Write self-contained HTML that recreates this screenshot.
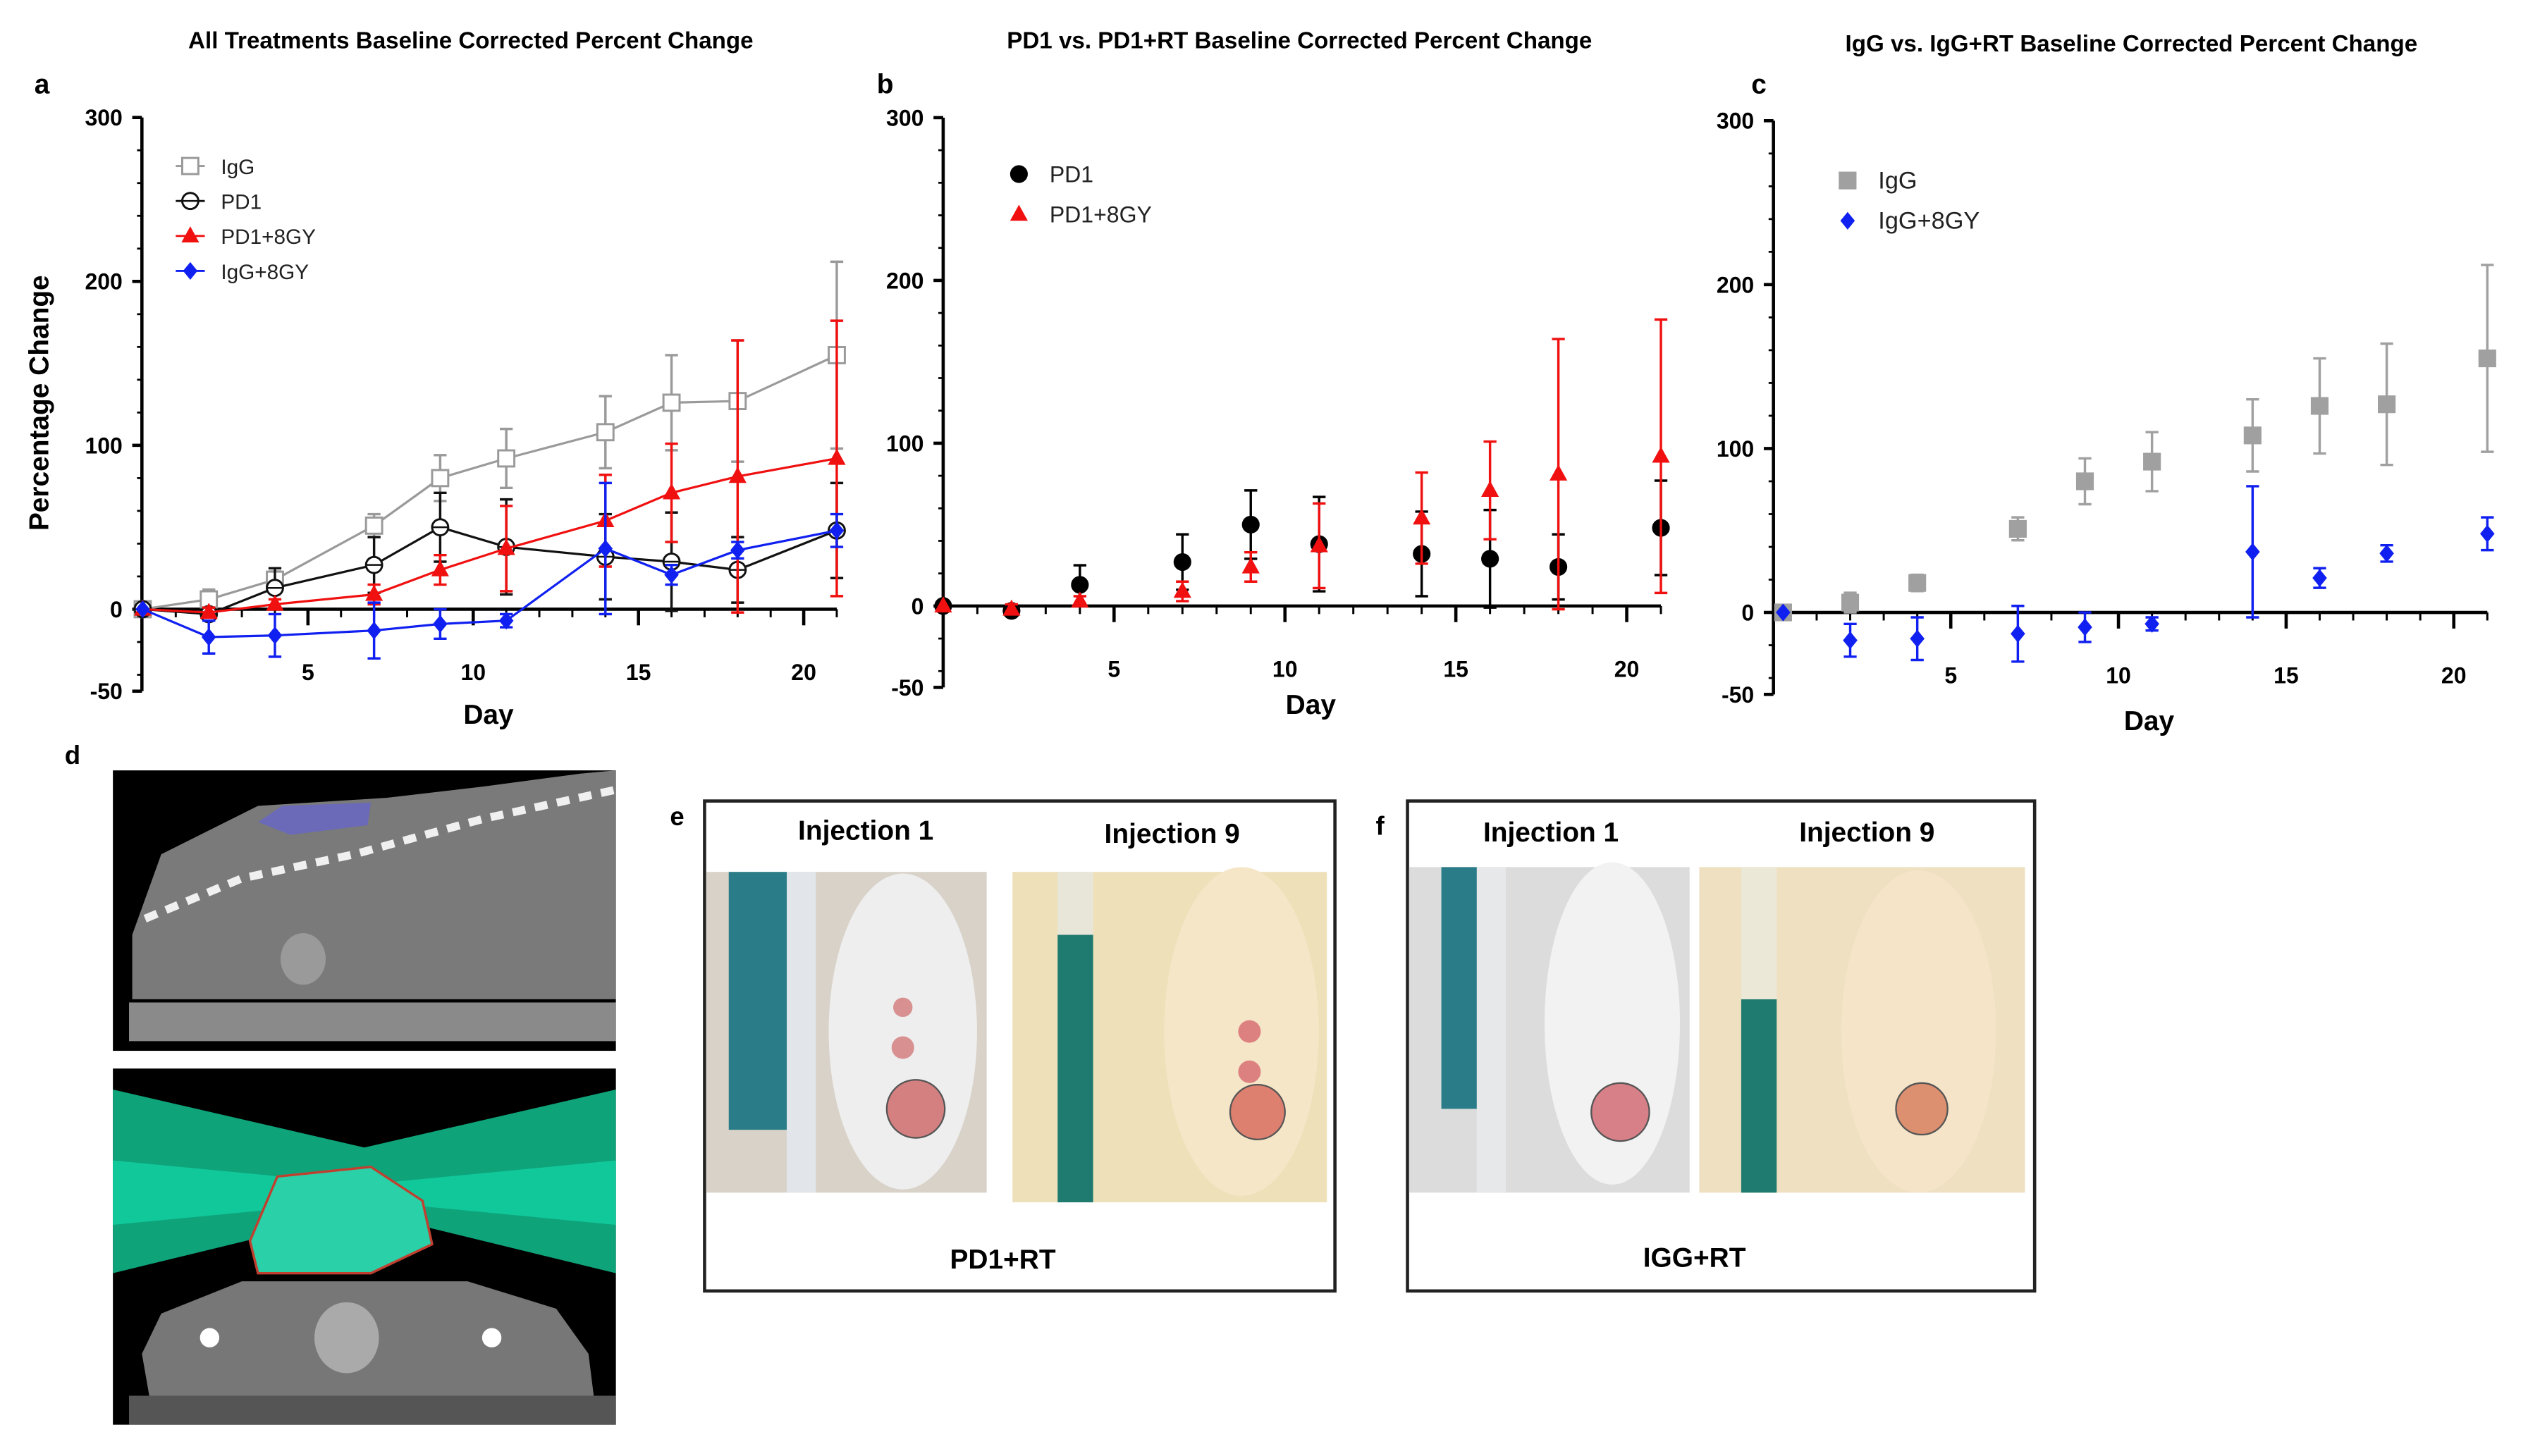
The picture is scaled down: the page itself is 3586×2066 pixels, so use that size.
<!DOCTYPE html>
<html><head><meta charset="utf-8"><style>
html,body{margin:0;padding:0;background:#fff}
svg{display:block}
text{font-family:"Liberation Sans",Arial,sans-serif}
</style></head><body>
<svg id="fig" width="3586" height="2066" viewBox="0 0 1568 903.4" xmlns="http://www.w3.org/2000/svg">
<rect width="1568" height="903.4" fill="#fff"/>
<g id="charts"></g>

<!-- panel d: CT images -->
<g>
<rect x="70" y="478" width="312" height="174" fill="#000"/>
<path d="M82,580 L100,530 L160,500 L240,495 L300,488 L360,480 L382,478 L382,620 L82,620 Z" fill="#7a7a7a"/>
<path d="M160,510 L175,500 L230,498 L228,512 L180,518 Z" fill="#6a6ab8"/>
<path d="M90,570 L150,545 L220,530 L300,508 L382,490" stroke="#f0f0f0" stroke-width="5" stroke-dasharray="8,6" fill="none"/>
<ellipse cx="188" cy="595" rx="14" ry="16" fill="#9a9a9a"/>
<rect x="80" y="622" width="302" height="24" fill="#8a8a8a"/>
</g>
<g>
<rect x="70" y="663" width="312" height="221" fill="#000"/>
<path d="M70,676 L226,712 L382,676 L382,790 L226,752 L70,790 Z" fill="#0fa37a"/>
<path d="M70,720 L226,735 L382,720 L382,760 L226,745 L70,760 Z" fill="#10c89a"/>
<path d="M155,770 L172,730 L230,724 L262,745 L268,772 L230,790 L160,790 Z" fill="#2ad0a8" stroke="#c04030" stroke-width="1.5"/>
<path d="M95,880 L88,840 L100,815 L150,795 L290,795 L345,812 L365,840 L370,880 Z" fill="#777"/>
<ellipse cx="215" cy="830" rx="20" ry="22" fill="#aaa"/>
<circle cx="130" cy="830" r="6" fill="#fff"/><circle cx="305" cy="830" r="6" fill="#fff"/>
<rect x="80" y="866" width="302" height="18" fill="#555"/>
</g>
<text x="45" y="474" font-size="16" font-weight="bold" text-anchor="middle">d</text>

<!-- panel e -->
<text x="420" y="512" font-size="16" font-weight="bold" text-anchor="middle">e</text>
<rect x="437" y="497" width="391" height="304" fill="none" stroke="#222" stroke-width="2"/>
<text x="537" y="521" font-size="17" font-weight="bold" text-anchor="middle">Injection 1</text>
<text x="727" y="523" font-size="17" font-weight="bold" text-anchor="middle">Injection 9</text>
<g>
<rect x="438" y="541" width="174" height="199" fill="#d8d2c8"/>
<rect x="452" y="541" width="36" height="160" fill="#2a7c88"/>
<rect x="488" y="541" width="18" height="199" fill="#e2e6ea"/>
<ellipse cx="560" cy="640" rx="46" ry="98" fill="#eeeeee"/>
<circle cx="568" cy="688" r="18" fill="#d48080" stroke="#555" stroke-width="1"/>
<circle cx="560" cy="650" r="7" fill="#d89090"/><circle cx="560" cy="625" r="6" fill="#d89090"/>
</g>
<g>
<rect x="628" y="541" width="195" height="205" fill="#eee0b8"/>
<rect x="656" y="580" width="22" height="166" fill="#1f7a70"/>
<rect x="656" y="541" width="22" height="39" fill="#e8e6d8"/>
<ellipse cx="770" cy="640" rx="48" ry="102" fill="#f5e6c8"/>
<circle cx="780" cy="690" r="17" fill="#dd8070" stroke="#555" stroke-width="1"/>
<circle cx="775" cy="640" r="7" fill="#dd8080"/><circle cx="775" cy="665" r="7" fill="#dd8080"/>
</g>
<text x="622" y="787" font-size="17" font-weight="bold" text-anchor="middle">PD1+RT</text>

<!-- panel f -->
<text x="856" y="518" font-size="16" font-weight="bold" text-anchor="middle">f</text>
<rect x="873" y="497" width="389" height="304" fill="none" stroke="#222" stroke-width="2"/>
<text x="962" y="522" font-size="17" font-weight="bold" text-anchor="middle">Injection 1</text>
<text x="1158" y="522" font-size="17" font-weight="bold" text-anchor="middle">Injection 9</text>
<g>
<rect x="874" y="538" width="174" height="202" fill="#dcdcdc"/>
<rect x="894" y="538" width="22" height="150" fill="#2a7c88"/>
<rect x="916" y="538" width="18" height="202" fill="#e6e8ea"/>
<ellipse cx="1000" cy="635" rx="42" ry="100" fill="#f2f2f2"/>
<circle cx="1005" cy="690" r="18" fill="#d88088" stroke="#555" stroke-width="1"/>
</g>
<g>
<rect x="1054" y="538" width="202" height="202" fill="#eee0c0"/>
<rect x="1080" y="620" width="22" height="120" fill="#1f7a70"/>
<rect x="1080" y="538" width="22" height="82" fill="#ece8d8"/>
<ellipse cx="1190" cy="640" rx="48" ry="100" fill="#f5e4c8"/>
<circle cx="1192" cy="688" r="16" fill="#dd9070" stroke="#555" stroke-width="1"/>
</g>
<text x="1051" y="786" font-size="17" font-weight="bold" text-anchor="middle">IGG+RT</text>
</svg>
<script>
const days = [0,2,4,7,9,11,14,16,18,21];
const iggVals = [0,6,18,51,80,92,108,126,127,155];
const iggErr = [2,6,5,7,14,18,22,29,37,57];
const pd1Vals = [0,-3,13,27,50,38,32,29,24,48];
const pd1Err = [0,3,12,17,21,29,26,30,20,29];
const pd1rtVals = [0,-2,3,9,24,37,54,71,81,92];
const pd1rtErr = [0,3,3,6,9,26,28,30,83,84];
const iggrtVals = [0,-17,-16,-13,-9,-7,37,21,36,48];
const iggrtErr = [0,10,13,17,9,4,40,6,5,10];
const yTicks = [300,200,100,0,-50];
const xTicks = [5,10,15,20];

const NS='http://www.w3.org/2000/svg';
const root=document.getElementById('charts');
function el(tag,attrs,parent){const e=document.createElementNS(NS,tag);for(const k in attrs)e.setAttribute(k,attrs[k]);(parent||root).appendChild(e);return e;}
function txt(s,attrs,parent){const e=el('text',attrs,parent);e.textContent=s;return e;}

function marker(g,type,cx,cy,color){
  let m;
  if(type==='sqOpen'){m=el('rect',{x:cx-5,y:cy-5,width:10,height:10,fill:'#fff',stroke:color,'stroke-width':1.3},g);}
  else if(type==='sqFill'){m=el('rect',{x:cx-5.5,y:cy-5.5,width:11,height:11,fill:color},g);}
  else if(type==='circOpen'){m=el('circle',{cx:cx,cy:cy,r:5,fill:'#fff',stroke:color,'stroke-width':1.3},g);el('line',{x1:cx-5,y1:cy,x2:cx+5,y2:cy,stroke:color,'stroke-width':1.1},g);}
  else if(type==='circFill'){m=el('circle',{cx:cx,cy:cy,r:5.5,fill:color},g);}
  else if(type==='tri'){m=el('polygon',{points:`${cx},${cy-6} ${cx+5.5},${cy+4} ${cx-5.5},${cy+4}`,fill:color},g);}
  else if(type==='dia'){m=el('polygon',{points:`${cx},${cy-5.5} ${cx+4.5},${cy} ${cx},${cy+5.5} ${cx-4.5},${cy}`,fill:color},g);}
  
  
}

function panel(cfg){
  const g=el('g',{});
  
  
  const X=d=>cfg.x0+cfg.dx*d, Y=v=>cfg.y0-cfg.dy*v;
  const t=txt(cfg.title,{x:cfg.tx,y:cfg.ty,'font-size':14.5,'font-weight':'bold','text-anchor':'middle'},g);
  
  
  const l=txt(cfg.letter,{x:cfg.lx,y:cfg.ly,'font-size':17,'font-weight':'bold','text-anchor':'middle'},g);
  
  
  const ya=el('line',{x1:cfg.ax,y1:Y(300),x2:cfg.ax,y2:Y(-50),stroke:'#000','stroke-width':2},g);
  
  
  for(let v=-40;v<300;v+=20){el('line',{x1:cfg.ax-3,y1:Y(v),x2:cfg.ax,y2:Y(v),stroke:'#000','stroke-width':1.2},g);}
  yTicks.forEach(v=>{
    el('line',{x1:cfg.ax-6,y1:Y(v),x2:cfg.ax,y2:Y(v),stroke:'#000','stroke-width':2},g);
    const tl=txt(String(v),{x:cfg.ax-12,y:Y(v)+5,'font-size':14,'font-weight':'bold','text-anchor':'end'},g);
    
    
  });
  const xa=el('line',{x1:cfg.ax,y1:Y(0),x2:X(21),y2:Y(0),stroke:'#000','stroke-width':2},g);
  
  
  for(let d=1;d<=21;d++){el('line',{x1:X(d),y1:Y(0),x2:X(d),y2:Y(0)+(d%5===0?10:5),stroke:'#000','stroke-width':d%5===0?2:1.3},g);}
  xTicks.forEach(d=>{
    const xl=txt(String(d),{x:X(d),y:Y(0)+44,'font-size':14,'font-weight':'bold','text-anchor':'middle'},g);
    
    
  });
  const xt=txt('Day',{x:cfg.dayX,y:cfg.dayY,'font-size':17,'font-weight':'bold','text-anchor':'middle'},g);
  
  
  if(cfg.ytitle){
    const yt=txt('Percentage Change',{x:0,y:0,'font-size':17,'font-weight':'bold','text-anchor':'middle',transform:`translate(30,250) rotate(-90)`},g);
    
    
  }
  cfg.series.forEach(s=>{
    const sg=el('g',{},g);
    
    
    days.forEach((d,i)=>{
      const e=s.err[i]; if(!e) return;
      const x=X(d);
      el('line',{x1:x,y1:Y(s.vals[i]+e),x2:x,y2:Y(s.vals[i]-e),stroke:s.color,'stroke-width':1.5},sg);
      el('line',{x1:x-4,y1:Y(s.vals[i]+e),x2:x+4,y2:Y(s.vals[i]+e),stroke:s.color,'stroke-width':1.5},sg);
      el('line',{x1:x-4,y1:Y(s.vals[i]-e),x2:x+4,y2:Y(s.vals[i]-e),stroke:s.color,'stroke-width':1.5},sg);
    });
    if(cfg.lines){
      const p=el('polyline',{points:days.map((d,i)=>X(d)+','+Y(s.vals[i])).join(' '),fill:'none',stroke:s.color,'stroke-width':1.4},sg);
      
      
    }
    days.forEach((d,i)=>marker(sg,s.marker,X(d),Y(s.vals[i]),s.color));
  });
  cfg.series.forEach((s,i)=>{
    const lg=el('g',{},g);
    
    
    const ly=cfg.legY+i*cfg.legDy;
    if(cfg.lines) el('line',{x1:cfg.legX-9,y1:ly,x2:cfg.legX+9,y2:ly,stroke:s.color,'stroke-width':1.3},lg);
    marker(lg,s.marker,cfg.legX,ly,s.color);
    txt(s.label,{x:cfg.legX+19,y:ly+5,'font-size':cfg.legFs,fill:'#222'},lg);
  });
}

panel({name:'chart-all-treatments',title:'All Treatments Baseline Corrected Percent Change',tx:292,ty:30,letter:'a',lx:26,ly:58,
  x0:88.5,dx:20.5,y0:378,dy:1.017,ax:88,dayX:303,dayY:449,ytitle:true,lines:true,
  legX:118,legY:103,legDy:21.7,legFs:13,
  series:[
    {label:'IgG',vals:iggVals,err:iggErr,color:'#9a9a9a',marker:'sqOpen'},
    {label:'PD1',vals:pd1Vals,err:pd1Err,color:'#111',marker:'circOpen'},
    {label:'PD1+8GY',vals:pd1rtVals,err:pd1rtErr,color:'#f01010',marker:'tri'},
    {label:'IgG+8GY',vals:iggrtVals,err:iggrtErr,color:'#1020f0',marker:'dia'}]});
panel({name:'chart-pd1-vs-pd1rt',title:'PD1 vs. PD1+RT Baseline Corrected Percent Change',tx:806,ty:30,letter:'b',lx:549,ly:58,
  x0:585,dx:21.2,y0:376,dy:1.01,ax:585,dayX:813,dayY:443,ytitle:false,lines:false,
  legX:632,legY:108,legDy:25,legFs:14,
  series:[
    {label:'PD1',vals:pd1Vals,err:pd1Err,color:'#000',marker:'circFill'},
    {label:'PD1+8GY',vals:pd1rtVals,err:pd1rtErr,color:'#f01010',marker:'tri'}]});
panel({name:'chart-igg-vs-iggrt',title:'IgG vs. IgG+RT Baseline Corrected Percent Change',tx:1322,ty:32,letter:'c',lx:1091,ly:58,
  x0:1106,dx:20.8,y0:380,dy:1.017,ax:1100,dayX:1333,dayY:453,ytitle:false,lines:false,
  legX:1146,legY:112,legDy:25,legFs:15,
  series:[
    {label:'IgG',vals:iggVals,err:iggErr,color:'#a0a0a0',marker:'sqFill'},
    {label:'IgG+8GY',vals:iggrtVals,err:iggrtErr,color:'#1020f0',marker:'dia'}]});
</script>
</body></html>
